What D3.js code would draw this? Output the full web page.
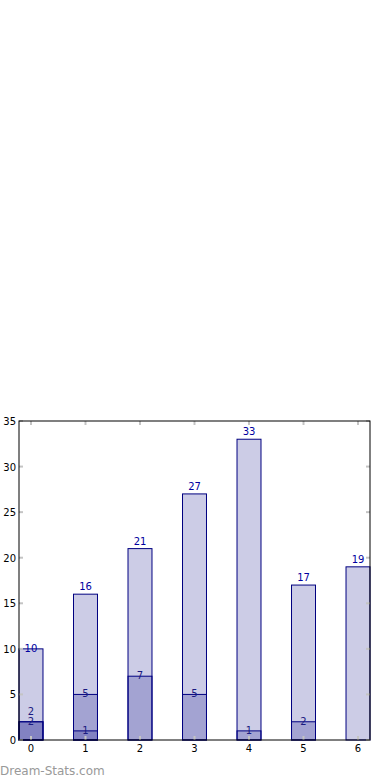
<!DOCTYPE html>
<html><head><meta charset="utf-8">
<script src="https://cdn.jsdelivr.net/npm/d3@7/dist/d3.min.js"></script>
<style>html,body{margin:0;padding:0;background:#fff;}svg{display:block;}</style>
</head><body>
<script>
const categories = [0, 1, 2, 3, 4, 5, 6];
const seriesA = [10, 16, 21, 27, 33, 17, 19];
const seriesB = [2, 5, 7, 5, 1, 2, 0];
const seriesC = [2, 1, 0, 0, 0, 0, 0];
const yTicks = [0, 5, 10, 15, 20, 25, 30, 35];

(function () {
const W = 390, H = 780;
const pL = 19, pR = 370, pT = 421, pB = 740;
const svg = d3.select("body").append("svg").attr("width", W).attr("height", H);

const x = d3.scaleLinear().domain([-0.22, 6.22]).range([pL, pR]);
const y = d3.scaleLinear().domain([0, 35]).range([pB, pT]);
const bw = x(0.44) - x(0);

const font = "DejaVu Sans, sans-serif";
const g = svg.append("g");

[seriesA, seriesB, seriesC].forEach(s => {
  g.selectAll(null).data(categories.filter((c, i) => s[i] > 0)).enter().append("rect")
    .attr("x", c => x(c) - bw / 2).attr("width", bw)
    .attr("y", c => y(s[c])).attr("height", c => y(0) - y(s[c]))
    .attr("fill", "#000080").attr("fill-opacity", 0.2)
    .attr("stroke", "#000080").attr("stroke-width", 1);
});

// ticks
const tk = svg.append("g").attr("stroke", "#c4c4c4").attr("stroke-width", 2);
categories.forEach(c => {
  tk.append("line").attr("x1", x(c)).attr("x2", x(c)).attr("y1", pB).attr("y2", pB - 4);
  tk.append("line").attr("x1", x(c)).attr("x2", x(c)).attr("y1", pT).attr("y2", pT + 4);
});
yTicks.forEach(t => {
  tk.append("line").attr("x1", pL).attr("x2", pL + 4).attr("y1", y(t)).attr("y2", y(t));
  tk.append("line").attr("x1", pR).attr("x2", pR - 4).attr("y1", y(t)).attr("y2", y(t));
});

// frame
svg.append("rect").attr("x", pL).attr("y", pT).attr("width", pR - pL).attr("height", pB - pT)
  .attr("fill", "none").attr("stroke", "#000").attr("stroke-width", 1);

// labels
function addLabels(s, color, dyFn) {
  categories.forEach((c, i) => {
    if (s[i] <= 0) return;
    svg.append("text").attr("x", x(c)).attr("y", y(s[i]) + dyFn(i))
      .attr("text-anchor", "middle").attr("font-family", font).attr("font-size", 10)
      .attr("fill", color).text(s[i]);
  });
}
addLabels(seriesA, "#0000a0", i => i === 0 ? 3 : -4);
addLabels(seriesB, "#1a1a80", i => seriesC[i] === seriesB[i] ? -7 : 3);
addLabels(seriesC, "#1a1a80", i => 3);

// axis tick labels
categories.forEach(c => {
  svg.append("text").attr("x", x(c)).attr("y", 752).attr("text-anchor", "middle")
    .attr("font-family", font).attr("font-size", 10).attr("fill", "#000").text(c);
});
yTicks.forEach(t => {
  svg.append("text").attr("x", 16).attr("y", y(t) + 4).attr("text-anchor", "end")
    .attr("font-family", font).attr("font-size", 10).attr("fill", "#000").text(t);
});

svg.append("text").attr("x", 0).attr("y", 775).attr("font-family", font).attr("font-size", 12)
  .attr("fill", "#999").text("Dream-Stats.com");
})();
</script>
</body></html>
